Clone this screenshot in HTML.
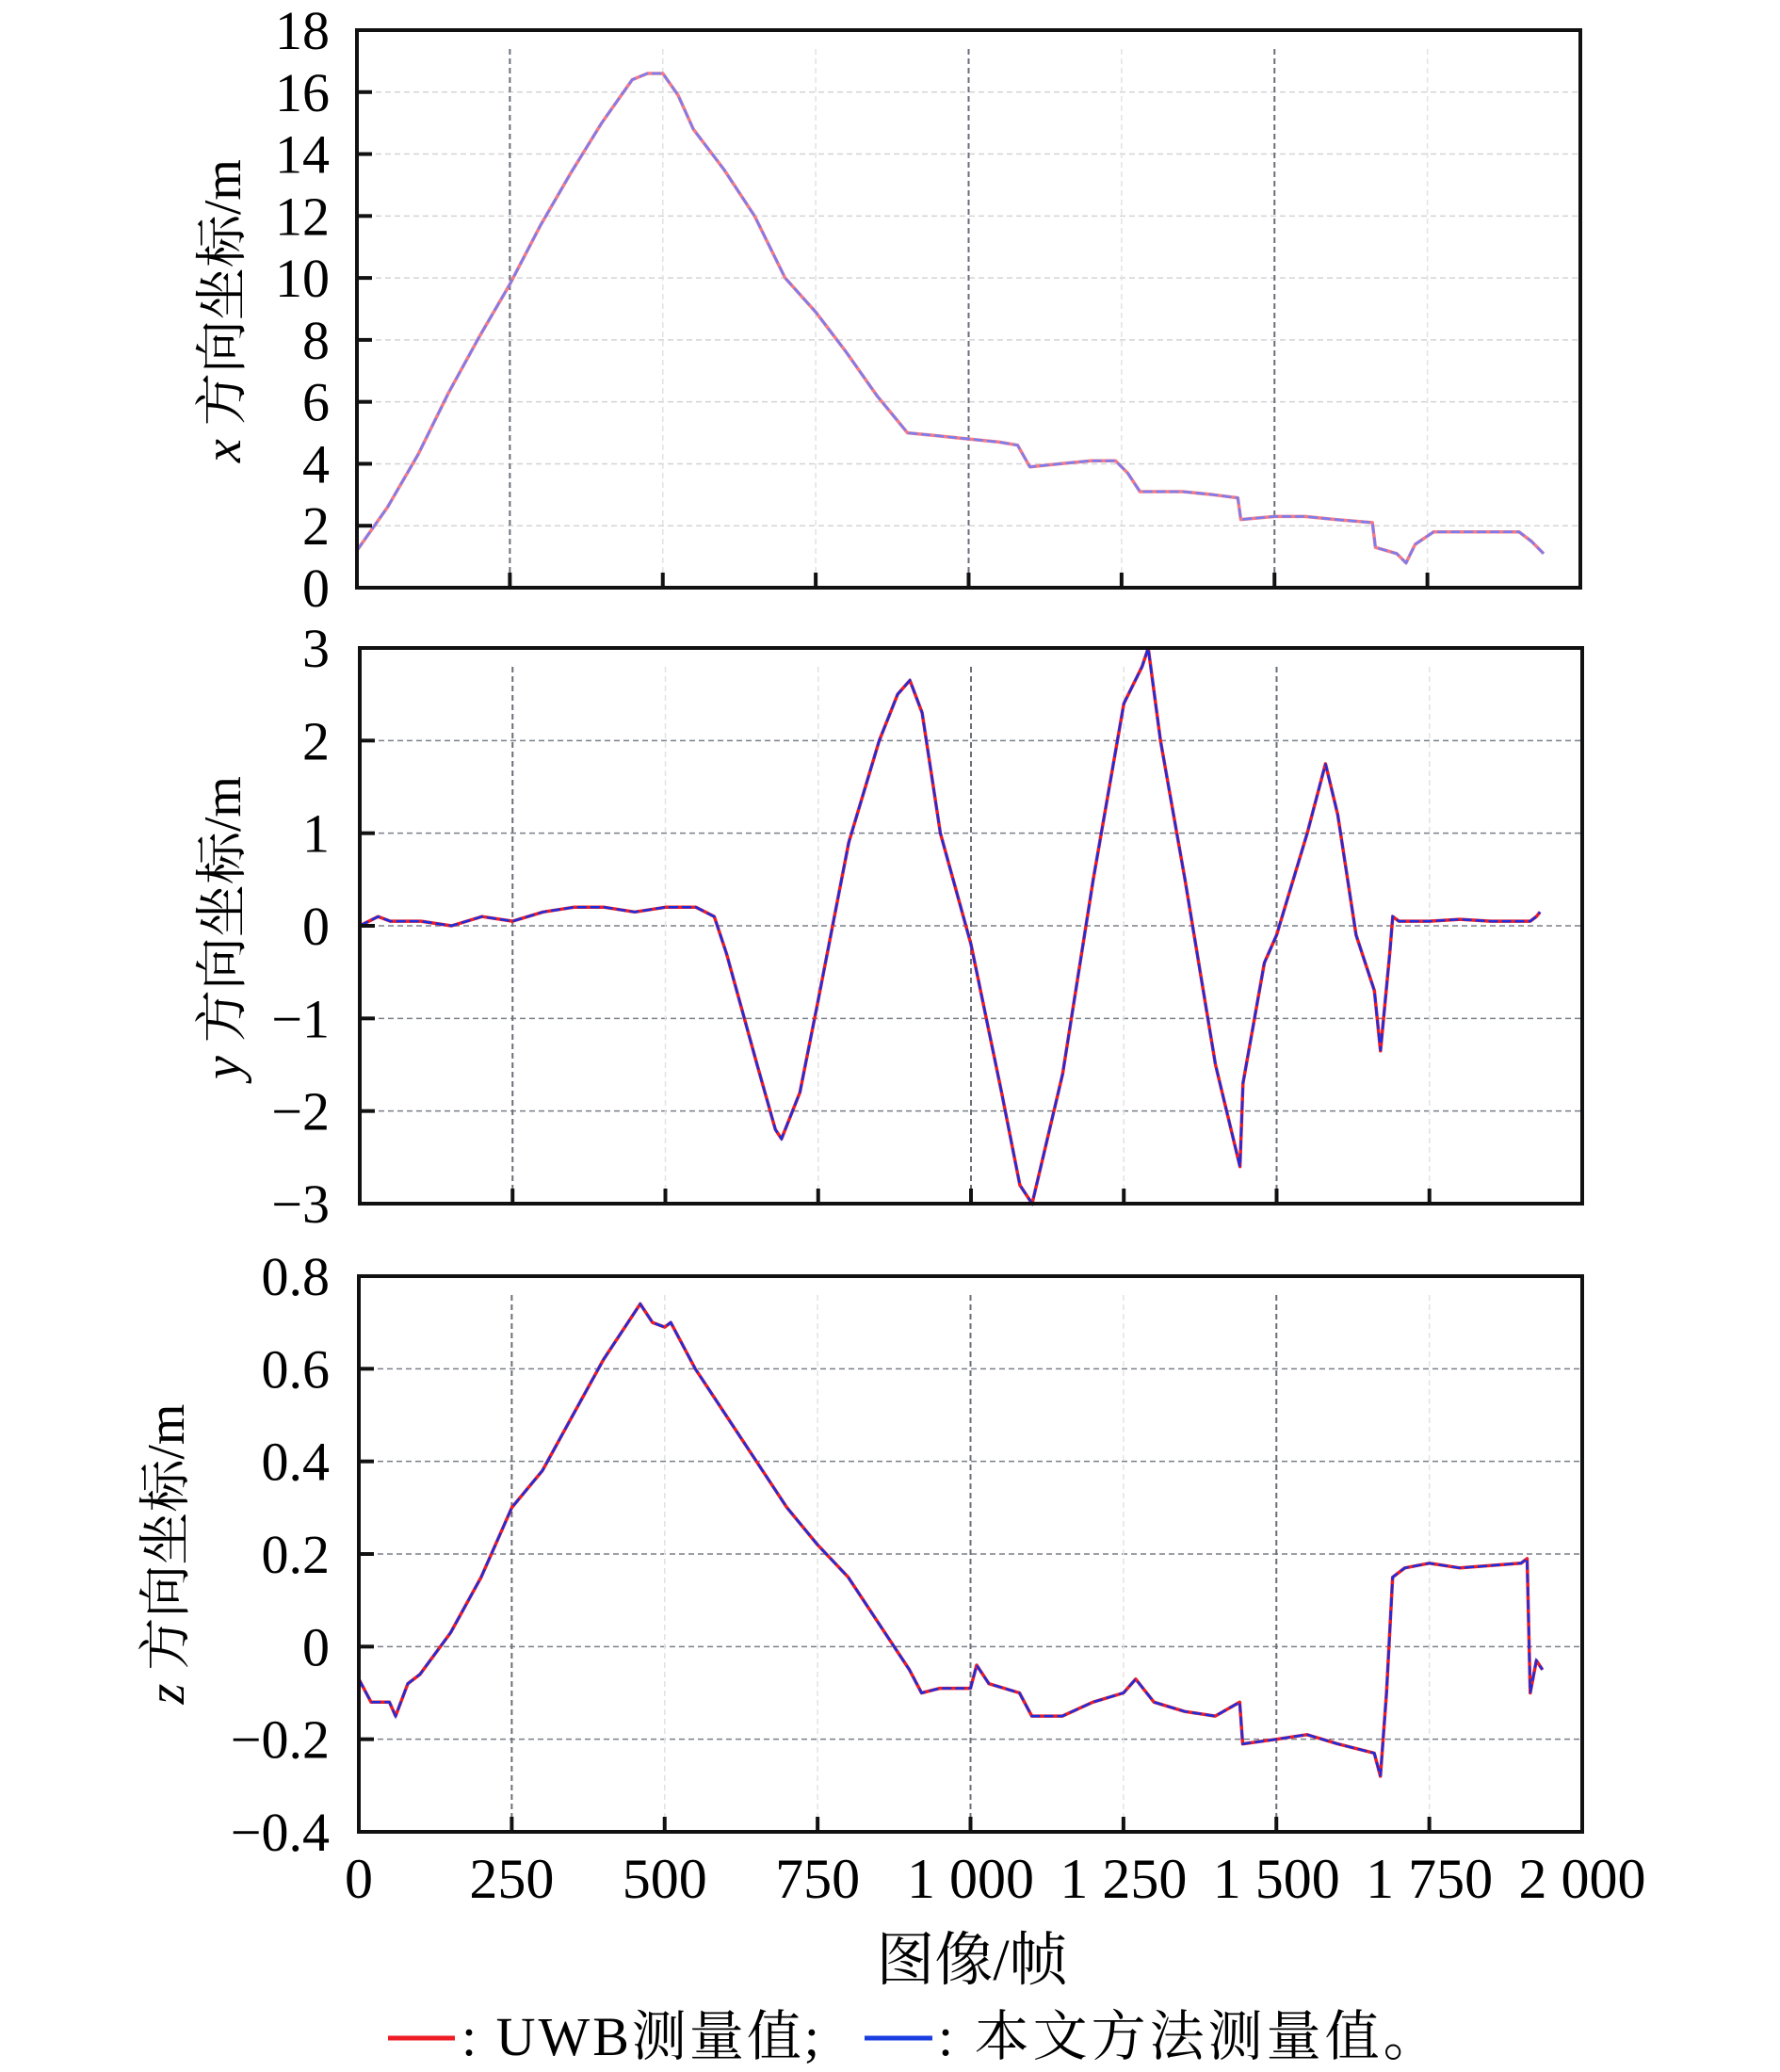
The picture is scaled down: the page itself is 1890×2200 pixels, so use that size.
<!DOCTYPE html>
<html><head><meta charset="utf-8"><style>
html,body{margin:0;padding:0;background:#fff;}
svg{display:block;}
text{font-family:"Liberation Serif","Noto Serif CJK SC",serif;fill:#000;}
</style></head><body>
<svg id="chart" width="1890" height="2200" viewBox="0 0 1890 2200" xmlns="http://www.w3.org/2000/svg"></svg>
<script>
const xFrames = [0,50,100,150,200,250,300,350,400,450,475,500,525,550,600,650,700,750,800,850,900,950,1000,1050,1080,1100,1150,1200,1240,1260,1280,1300,1350,1400,1440,1445,1500,1550,1600,1660,1665,1700,1715,1730,1760,1800,1850,1900,1920,1940];
const xValues = [1.2,2.6,4.3,6.3,8.1,9.8,11.7,13.4,15.0,16.4,16.6,16.6,15.9,14.8,13.5,12.0,10.0,8.9,7.6,6.2,5.0,4.9,4.8,4.7,4.6,3.9,4.0,4.1,4.1,3.7,3.1,3.1,3.1,3.0,2.9,2.2,2.3,2.3,2.2,2.1,1.3,1.1,0.8,1.4,1.8,1.8,1.8,1.8,1.5,1.1];
const yFrames = [0,30,50,100,150,200,250,300,350,400,450,500,550,580,600,650,680,690,720,750,800,850,880,900,920,950,1000,1050,1080,1100,1150,1200,1250,1280,1290,1310,1350,1400,1440,1445,1480,1500,1550,1580,1600,1630,1660,1670,1685,1690,1700,1750,1800,1850,1900,1915,1925,1931];
const yValues = [0.0,0.1,0.05,0.05,0.0,0.1,0.05,0.15,0.2,0.2,0.15,0.2,0.2,0.1,-0.3,-1.5,-2.2,-2.3,-1.8,-0.8,0.9,2.0,2.5,2.65,2.3,1.0,-0.2,-1.8,-2.8,-3.0,-1.6,0.5,2.4,2.8,3.0,2.0,0.5,-1.5,-2.6,-1.7,-0.4,-0.1,1.0,1.75,1.2,-0.1,-0.7,-1.35,-0.3,0.1,0.05,0.05,0.07,0.05,0.05,0.05,0.1,0.15];
const zFrames = [0,20,50,60,80,100,150,200,250,300,350,400,450,460,480,500,510,550,600,650,700,750,800,850,900,920,950,1000,1010,1030,1080,1100,1150,1200,1250,1270,1300,1350,1400,1440,1445,1500,1550,1600,1660,1670,1680,1690,1710,1750,1800,1900,1910,1915,1925,1935];
const zValues = [-0.07,-0.12,-0.12,-0.15,-0.08,-0.06,0.03,0.15,0.3,0.38,0.5,0.62,0.72,0.74,0.7,0.69,0.7,0.6,0.5,0.4,0.3,0.22,0.15,0.05,-0.05,-0.1,-0.09,-0.09,-0.04,-0.08,-0.1,-0.15,-0.15,-0.12,-0.1,-0.07,-0.12,-0.14,-0.15,-0.12,-0.21,-0.2,-0.19,-0.21,-0.23,-0.28,-0.1,0.15,0.17,0.18,0.17,0.18,0.19,-0.1,-0.03,-0.05];
const xTickLabels = ["0","250","500","750","1 000","1 250","1 500","1 750","2 000"];
const xTicks = [0,250,500,750,1000,1250,1500,1750,2000];
const ticks1 = [0,2,4,6,8,10,12,14,16,18];
const ticks2 = [-3,-2,-1,0,1,2,3];
const ticks3 = [-0.4,-0.2,0,0.2,0.4,0.6,0.8];
const labels3 = ["\u22120.4","\u22120.2","0","0.2","0.4","0.6","0.8"];

const NS="http://www.w3.org/2000/svg";
const svg=document.getElementById('chart');
function mk(tag,attrs,parent){const e=document.createElementNS(NS,tag);for(const k in attrs)e.setAttribute(k,attrs[k]);(parent||svg).appendChild(e);return e;}

function panel(cfg){
  const g=mk('g',{});
  
  
  const {L,T,R,B,ymin,ymax}=cfg;
  const sx=v=>L+(v-0)/2000*(R-L);
  const sy=v=>B-(v-ymin)/(ymax-ymin)*(B-T);
  cfg.ticks.forEach(t=>{ if(t===ymin||t===ymax) return;
    const l=mk('line',{x1:L,x2:R,y1:sy(t),y2:sy(t),stroke:cfg.gridColor,'stroke-width':1.5,'stroke-dasharray':'6 4'},g);
    
    
  });
  xTicks.forEach(t=>{ if(t===0||t===2000) return;
    const dark=(t===250||t===1000||t===1500);
    const l=mk('line',{x1:sx(t),x2:sx(t),y1:T+20,y2:B,stroke:dark?'#6a6f78':'#e2e2e2','stroke-width':dark?2:1.5,'stroke-dasharray':'6 4'},g);
    
    
  });
  const pts=cfg.frames.map((f,i)=>sx(f).toFixed(1)+','+sy(cfg.values[i]).toFixed(1)).join(' ');
  const red=mk('polyline',{points:pts,fill:'none',stroke:cfg.redColor,'stroke-width':3.5,'stroke-linejoin':'round'},g);
  
  
  const blue=mk('polyline',{points:pts,fill:'none',stroke:cfg.blueColor,'stroke-width':2.5,'stroke-dasharray':'10 4'},g);
  
  
  const fr=mk('rect',{x:L,y:T,width:R-L,height:B-T,fill:'none',stroke:'#111','stroke-width':4},g);
  
  
  cfg.ticks.forEach((t,i)=>{
    const tk=mk('line',{x1:L,x2:L+16,y1:sy(t),y2:sy(t),stroke:'#111','stroke-width':4},g);
    
    
    const tx=mk('text',{x:350,y:sy(t)+20,'text-anchor':'end','font-size':58},g);
    
    
    tx.textContent=cfg.labels?cfg.labels[i]:String(t).replace('-','\u2212');
  });
  xTicks.forEach(t=>{ if(t===0||t===2000) return;
    const tk=mk('line',{x1:sx(t),x2:sx(t),y1:B,y2:B-16,stroke:'#111','stroke-width':4},g);
    
    
  });
  const yt=mk('text',{transform:`translate(${cfg.titleX},${cfg.titleY}) rotate(-90)`,'text-anchor':'middle','font-size':56},g);
  
  
  const it=mk('tspan',{'font-style':'italic'},yt); it.textContent=cfg.axis;
  const rest=mk('tspan',{},yt); rest.textContent=' 方向坐标/m';
  return sx;
}
panel({name:'x-panel',L:379,T:32,R:1678,B:624,ymin:0,ymax:18,ticks:ticks1,frames:xFrames,values:xValues,gridColor:'#d4d4d4',redColor:'#f47a86',blueColor:'#7a7cf0',titleX:255,titleY:330,axis:'x'});
panel({name:'y-panel',L:382,T:688,R:1680,B:1278,ymin:-3,ymax:3,ticks:ticks2,frames:yFrames,values:yValues,gridColor:'#7a7f88',redColor:'#ee1c25',blueColor:'#1a2ee0',titleX:255,titleY:985,axis:'y'});
const sx3=panel({name:'z-panel',L:381,T:1355,R:1680,B:1945,ymin:-0.4,ymax:0.8,ticks:ticks3,labels:labels3,frames:zFrames,values:zValues,gridColor:'#7a7f88',redColor:'#ee1c25',blueColor:'#1a2ee0',titleX:195,titleY:1650,axis:'z'});
xTicks.forEach((t,i)=>{
  const tx=mk('text',{x:sx3(t),y:2015,'text-anchor':'middle','font-size':60});
  
  
  tx.textContent=xTickLabels[i];
});
</script>
<svg style="position:absolute;left:0;top:0" width="1890" height="2200">
<text x="1032" y="2102" text-anchor="middle" font-size="62">图像/帧</text>
<line x1="412" y1="2164" x2="483" y2="2164" stroke="#ee1c25" stroke-width="5"/>
<text x="490" y="2182" font-size="58" letter-spacing="3">: UWB测量值;</text>
<line x1="918" y1="2164" x2="990" y2="2164" stroke="#1a3ee0" stroke-width="5"/>
<text x="996" y="2182" font-size="58" letter-spacing="4">: 本文方法测量值。</text>
</svg>
</body></html>
